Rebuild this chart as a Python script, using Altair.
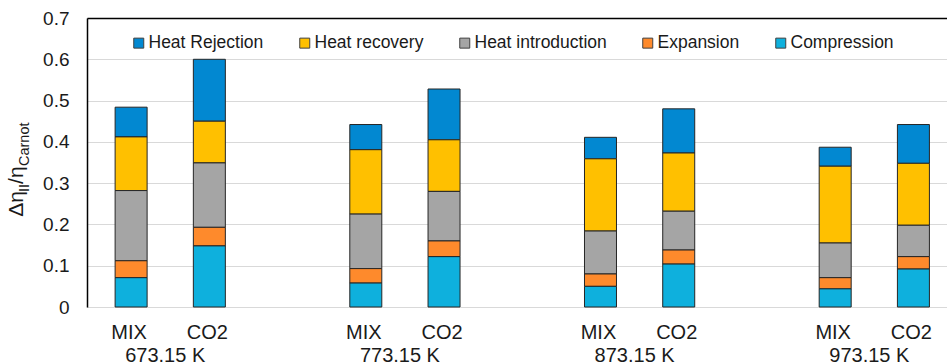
import altair as alt
import pandas as pd

temps = ["673.15 K", "773.15 K", "873.15 K", "973.15 K"]
fluids = ["MIX", "CO2"]
components = ["Heat Rejection", "Heat recovery", "Heat introduction", "Expansion", "Compression"]
colors = ["#0288d1", "#ffc000", "#a5a5a5", "#fe8a2c", "#0eb0dd"]

# values per bar, order: MIX 673, CO2 673, MIX 773, CO2 773, MIX 873, CO2 873, MIX 973, CO2 973
compression = [0.071, 0.148, 0.058, 0.122, 0.050, 0.104, 0.044, 0.092]
expansion = [0.041, 0.045, 0.035, 0.038, 0.030, 0.034, 0.027, 0.030]
heat_introduction = [0.170, 0.156, 0.132, 0.120, 0.104, 0.094, 0.084, 0.076]
heat_recovery = [0.130, 0.101, 0.156, 0.125, 0.175, 0.141, 0.186, 0.150]
heat_rejection = [0.072, 0.150, 0.061, 0.123, 0.052, 0.107, 0.046, 0.094]

y_ticks = [0, 0.1, 0.2, 0.3, 0.4, 0.5, 0.6, 0.7]

FONT = "Liberation Sans"
TEXT = "#1a1a1a"
W, H = 860, 289
SLOT_PER_GROUP = 3
X_MAX = 860 / 79.15

series = {
    "Heat Rejection": heat_rejection,
    "Heat recovery": heat_recovery,
    "Heat introduction": heat_introduction,
    "Expansion": expansion,
    "Compression": compression,
}

rows = []
for c_idx, comp in enumerate(components):
    for i, v in enumerate(series[comp]):
        g, f = divmod(i, 2)
        rows.append({
            "slot": SLOT_PER_GROUP * g + f + 0.5,
            "component": comp,
            "value": v,
            "stack_order": len(components) - 1 - c_idx,
        })
df = pd.DataFrame(rows)

fluid_rows = []
temp_rows = []
for g, t in enumerate(temps):
    for f, fl in enumerate(fluids):
        fluid_rows.append({"slot": SLOT_PER_GROUP * g + f + 0.5, "label": fl})
    temp_rows.append({"slot": SLOT_PER_GROUP * g + 1.0, "label": t})

xscale = alt.Scale(domain=[0, X_MAX], nice=False, zero=False)

bars = alt.Chart(df).mark_bar(
    orient="vertical", width=32, stroke="#262626", strokeWidth=1
).encode(
    x=alt.X(
        "slot:Q",
        scale=xscale,
        axis=alt.Axis(
            values=list(range(11)),
            labels=False,
            ticks=True,
            tickSize=6,
            tickColor="#262626",
            tickWidth=1.2,
            grid=False,
            domainColor="#000000",
            domainWidth=1.5,
            title=None,
        ),
    ),
    y=alt.Y(
        "value:Q",
        stack="zero",
        scale=alt.Scale(domain=[0, 0.7], nice=False),
        axis=alt.Axis(
            values=y_ticks,
            labelExpr="datum.value == 0 ? '0' : format(datum.value, '.1f')",
            labelFontSize=19,
            labelFont=FONT,
            labelColor=TEXT,
            labelPadding=18,
            ticks=False,
            domainColor="#000000",
            domainWidth=1.5,
            gridColor={"condition": {"test": "datum.value >= 0.69", "value": "#000000"}, "value": "#d9d9d9"},
            gridWidth={"condition": {"test": "datum.value >= 0.69", "value": 1.5}, "value": 1.2},
            title=None,
        ),
    ),
    color=alt.Color(
        "component:N",
        scale=alt.Scale(domain=components, range=colors),
        legend=alt.Legend(
            title=None,
            orient="none",
            direction="horizontal",
            legendX=43,
            legendY=16,
            padding=0,
            symbolType="square",
            symbolSize=100,
            symbolStrokeColor="#404040",
            symbolStrokeWidth=1,
            labelFont=FONT,
            labelFontSize=17.5,
            labelColor=TEXT,
            labelOffset=1,
            columnPadding=32,
            labelLimit=400,
        ),
    ),
    order=alt.Order("stack_order:Q", sort="ascending"),
)

fluid_labels = alt.Chart(pd.DataFrame(fluid_rows)).mark_text(
    font=FONT, fontSize=20, color=TEXT, baseline="alphabetic", align="center", dx=-2
).encode(
    x=alt.X("slot:Q", scale=xscale, axis=None),
    y=alt.value(321),
    text="label:N",
)

temp_labels = alt.Chart(pd.DataFrame(temp_rows)).mark_text(
    font=FONT, fontSize=20, color=TEXT, baseline="alphabetic", align="center", dx=-5
).encode(
    x=alt.X("slot:Q", scale=xscale, axis=None),
    y=alt.value(344),
    text="label:N",
)

one = pd.DataFrame({"k": [0]})


def title_piece(txt, size, bx, sy):
    return alt.Chart(one).mark_text(
        font=FONT, fontSize=size, color=TEXT, angle=270, align="left", baseline="alphabetic"
    ).encode(x=alt.value(bx), y=alt.value(sy), text=alt.value(txt))


title_layers = [
    title_piece("Δη", 21, -63.7, 198.7),
    title_piece("II", 14.5, -58.5, 174),
    title_piece("/", 21, -63.7, 166),
    title_piece("η", 21, -63.7, 160),
    title_piece("Carnot", 14.5, -58.5, 148),
]

chart = alt.layer(bars, fluid_labels, temp_labels, *title_layers).properties(
    width=W,
    height=H,
    autosize=alt.AutoSizeParams(type="none"),
    padding={"left": 87, "top": 18, "right": 0, "bottom": 57},
).configure_view(stroke=None).configure(background="white")

chart.save("out.html", embed_options={"renderer": "svg", "actions": False})
